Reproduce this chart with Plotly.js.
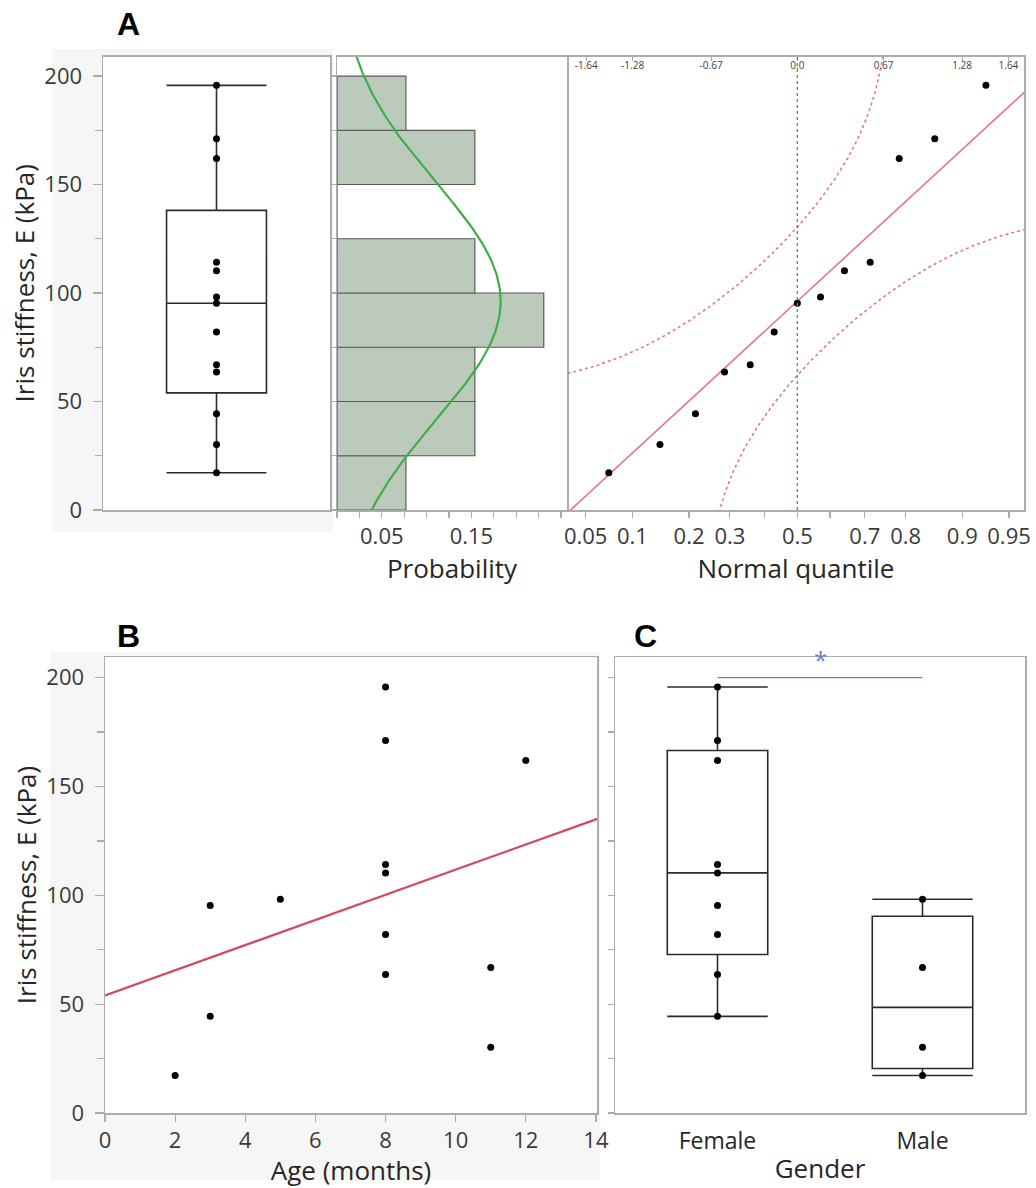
<!DOCTYPE html>
<html>
<head>
<meta charset="utf-8">
<script src="https://cdn.plot.ly/plotly-3.0.1.min.js"></script>
<style>
html,body{margin:0;padding:0;background:#ffffff;}
#chart{width:1036px;height:1188px;}
</style>
</head>
<body>
<div id="chart"></div>
<script>
// ---------------- DATA ----------------
// Iris stiffness E (kPa), one value per subject (sorted)
const stiffness = [17.2, 30.2, 44.4, 63.6, 66.9, 82.0, 95.3, 98.2, 110.3, 114.2, 162.0, 171.1, 195.7];
// Age (months) of the same subjects
const ageMonths = [2, 11, 3, 8, 11, 8, 3, 5, 8, 8, 12, 8, 8];
// Gender of the same subjects
const gender = ['Male', 'Male', 'Female', 'Female', 'Male', 'Female', 'Female', 'Male', 'Female', 'Female', 'Female', 'Female', 'Female'];
const genderCategories = ['Female', 'Male'];
// Histogram bin edges (kPa)
const binEdges = [0, 25, 50, 75, 100, 125, 150, 175, 200];
// Probability axis ticks of the histogram
const probAxisTicks = [0, 0.025, 0.05, 0.075, 0.1, 0.125, 0.15, 0.175, 0.2, 0.225, 0.25];
const probAxisLabels = ['', '', '0.05', '', '', '', '0.15', '', '', '', ''];
// Normal-quantile axis (bottom: probabilities, top: z values)
const quantileProbTicks = [0.05, 0.1, 0.2, 0.3, 0.4, 0.5, 0.6, 0.7, 0.8, 0.9, 0.95];
const quantileProbLabels = ['0.05', '0.1', '0.2', '0.3', '', '0.5', '', '0.7', '0.8', '0.9', '0.95'];
const zTicks = [-1.64, -1.28, -0.67, 0, 0.67, 1.28, 1.64];
const zTickLabels = ['-1.64', '-1.28', '-0.67', '0.0', '0.67', '1.28', '1.64'];
// Lilliefors critical value used for the confidence bands (n = 13)
const lillieforsD = 0.234;

// ---------------- helpers ----------------
function invNorm(p) {
  const a = [-3.969683028665376e+01, 2.209460984245205e+02, -2.759285104469687e+02, 1.383577518672690e+02, -3.066479806614716e+01, 2.506628277459239e+00];
  const b = [-5.447609879822406e+01, 1.615858368580409e+02, -1.556989798598866e+02, 6.680131188771972e+01, -1.328068155288572e+01];
  const c = [-7.784894002430293e-03, -3.223964580411365e-01, -2.400758277161838e+00, -2.549732539343734e+00, 4.374664141464968e+00, 2.938163982698783e+00];
  const d = [7.784695709041462e-03, 3.224671290700398e-01, 2.445134137142996e+00, 3.754408661907416e+00];
  const pl = 0.02425, ph = 1 - pl;
  let q, r;
  if (p < pl) { q = Math.sqrt(-2 * Math.log(p)); return (((((c[0]*q+c[1])*q+c[2])*q+c[3])*q+c[4])*q+c[5]) / ((((d[0]*q+d[1])*q+d[2])*q+d[3])*q+1); }
  if (p > ph) { q = Math.sqrt(-2 * Math.log(1 - p)); return -(((((c[0]*q+c[1])*q+c[2])*q+c[3])*q+c[4])*q+c[5]) / ((((d[0]*q+d[1])*q+d[2])*q+d[3])*q+1); }
  q = p - 0.5; r = q * q;
  return (((((a[0]*r+a[1])*r+a[2])*r+a[3])*r+a[4])*r+a[5])*q / (((((b[0]*r+b[1])*r+b[2])*r+b[3])*r+b[4])*r+1);
}
function normCdf(z) {
  const x = Math.abs(z) / Math.SQRT2;
  const t = 1 / (1 + 0.3275911 * x);
  const y = 1 - (((((1.061405429*t - 1.453152027)*t) + 1.421413741)*t - 0.284496736)*t + 0.254829592)*t*Math.exp(-x*x);
  return z >= 0 ? 0.5 * (1 + y) : 0.5 * (1 - y);
}
// JMP-style quantile: position (n+1)p
function quantile(sorted, p) {
  const n = sorted.length, h = (n + 1) * p;
  if (h <= 1) return sorted[0];
  if (h >= n) return sorted[n - 1];
  const lo = Math.floor(h);
  return sorted[lo - 1] + (h - lo) * (sorted[lo] - sorted[lo - 1]);
}
function boxStats(values) {
  const s = values.slice().sort((u, v) => u - v);
  const q1 = quantile(s, 0.25), med = quantile(s, 0.5), q3 = quantile(s, 0.75);
  const iqr = q3 - q1;
  const lo = s.filter(v => v >= q1 - 1.5 * iqr)[0];
  const hiArr = s.filter(v => v <= q3 + 1.5 * iqr);
  return { q1: q1, med: med, q3: q3, lo: lo, hi: hiArr[hiArr.length - 1] };
}

const n = stiffness.length;
const sortedE = stiffness.slice().sort((u, v) => u - v);
const meanE = stiffness.reduce((s, v) => s + v, 0) / n;
const sdE = Math.sqrt(stiffness.reduce((s, v) => s + (v - meanE) * (v - meanE), 0) / (n - 1));

// ---------------- styles ----------------
const FONT = 'Open Sans, Noto Sans, DejaVu Sans, sans-serif';
const AXIS_GREY = '#acacac';
const TICK_FONT = { family: FONT, size: 22, color: '#3a3a3a' };
const TITLE_FONT = { family: FONT, size: 26, color: '#262626' };
const BOX_LINE = { color: '#2b2b2b', width: 1.6 };
const PINK = '#e2768c';
const GREEN = '#3caf46';

const traces = [];

// ---- A: box plot ----
const stA = boxStats(stiffness);
traces.push({
  type: 'box', xaxis: 'x', yaxis: 'y', orientation: 'v',
  x: [0], q1: [stA.q1], median: [stA.med], q3: [stA.q3], lowerfence: [stA.lo], upperfence: [stA.hi],
  width: 0.44, whiskerwidth: 1, fillcolor: '#ffffff', line: BOX_LINE, boxpoints: false,
  showlegend: false, hoverinfo: 'skip'
});
traces.push({
  type: 'scatter', mode: 'markers', xaxis: 'x', yaxis: 'y',
  x: stiffness.map(() => 0), y: stiffness,
  marker: { color: '#000', size: 7 }, showlegend: false, hoverinfo: 'skip'
});

// ---- A: histogram (horizontal) ----
const binCenters = [], binProb = [];
for (let i = 0; i < binEdges.length - 1; i++) {
  const lo = binEdges[i], hi = binEdges[i + 1];
  binCenters.push((lo + hi) / 2);
  binProb.push(stiffness.filter(v => v >= lo && v < hi).length / n);
}
const binWidth = binEdges[1] - binEdges[0];
traces.push({
  type: 'bar', orientation: 'h', xaxis: 'x2', yaxis: 'y2',
  y: binCenters, x: binProb, width: binWidth,
  marker: { color: '#bccabb', line: { color: '#5a5a5a', width: 1.2 } },
  showlegend: false, hoverinfo: 'skip'
});
// fitted normal density (scaled to bin probability)
const curveY = [], curveX = [];
for (let yv = -5; yv <= 215; yv += 1) {
  const zz = (yv - meanE) / sdE;
  curveY.push(yv);
  curveX.push(binWidth * Math.exp(-0.5 * zz * zz) / (sdE * Math.sqrt(2 * Math.PI)));
}
traces.push({
  type: 'scatter', mode: 'lines', xaxis: 'x2', yaxis: 'y2',
  x: curveX, y: curveY, line: { color: GREEN, width: 2.2 },
  showlegend: false, hoverinfo: 'skip'
});

// ---- A: normal quantile plot ----
const qqX = sortedE.map((v, i) => invNorm((i + 1) / (n + 1)));
const zGrid = [];
for (let z = -2.2; z <= 2.2001; z += 0.01) zGrid.push(z);
traces.push({
  type: 'scatter', mode: 'lines', xaxis: 'x3', yaxis: 'y3',
  x: [zGrid[0], zGrid[zGrid.length - 1]],
  y: [meanE + sdE * zGrid[0], meanE + sdE * zGrid[zGrid.length - 1]],
  line: { color: PINK, width: 1.6 }, showlegend: false, hoverinfo: 'skip'
});
const upX = [], upY = [], loX = [], loY = [];
zGrid.forEach(z => {
  const pu = normCdf(z) + lillieforsD;
  if (pu < 0.9995) { const yv = meanE + sdE * invNorm(pu); if (yv < 260) { upX.push(z); upY.push(yv); } }
  const pl = normCdf(z) - lillieforsD;
  if (pl > 0.0005) { const yv = meanE + sdE * invNorm(pl); if (yv > -50) { loX.push(z); loY.push(yv); } }
});
traces.push({
  type: 'scatter', mode: 'lines', xaxis: 'x3', yaxis: 'y3', x: upX, y: upY,
  line: { color: PINK, width: 1.6, dash: 'dot' }, showlegend: false, hoverinfo: 'skip'
});
traces.push({
  type: 'scatter', mode: 'lines', xaxis: 'x3', yaxis: 'y3', x: loX, y: loY,
  line: { color: PINK, width: 1.6, dash: 'dot' }, showlegend: false, hoverinfo: 'skip'
});
traces.push({
  type: 'scatter', mode: 'markers', xaxis: 'x3', yaxis: 'y3', x: qqX, y: sortedE,
  marker: { color: '#000', size: 7 }, showlegend: false, hoverinfo: 'skip'
});
// carrier for the top z axis
traces.push({
  type: 'scatter', mode: 'markers', xaxis: 'x4', yaxis: 'y3', x: [0], y: [100],
  marker: { opacity: 0 }, showlegend: false, hoverinfo: 'skip'
});

// ---- B: stiffness vs age ----
const meanAge = ageMonths.reduce((s, v) => s + v, 0) / n;
let sxy = 0, sxx = 0;
for (let i = 0; i < n; i++) { sxy += (ageMonths[i] - meanAge) * (stiffness[i] - meanE); sxx += (ageMonths[i] - meanAge) ** 2; }
const slope = sxy / sxx, intercept = meanE - slope * meanAge;
traces.push({
  type: 'scatter', mode: 'lines', xaxis: 'x5', yaxis: 'y5',
  x: [0, 14.2], y: [intercept, intercept + slope * 14.2],
  line: { color: '#d6485e', width: 2.2 }, showlegend: false, hoverinfo: 'skip'
});
traces.push({
  type: 'scatter', mode: 'markers', xaxis: 'x5', yaxis: 'y5',
  x: ageMonths, y: stiffness,
  marker: { color: '#000', size: 7 }, showlegend: false, hoverinfo: 'skip'
});

// ---- C: stiffness by gender ----
genderCategories.forEach((g, gi) => {
  const vals = stiffness.filter((v, i) => gender[i] === g);
  const st = boxStats(vals);
  traces.push({
    type: 'box', xaxis: 'x6', yaxis: 'y6', orientation: 'v',
    x: [gi], q1: [st.q1], median: [st.med], q3: [st.q3], lowerfence: [st.lo], upperfence: [st.hi],
    width: 0.49, whiskerwidth: 1, fillcolor: '#ffffff', line: BOX_LINE, boxpoints: false,
    showlegend: false, hoverinfo: 'skip'
  });
  traces.push({
    type: 'scatter', mode: 'markers', xaxis: 'x6', yaxis: 'y6',
    x: vals.map(() => gi), y: vals,
    marker: { color: '#000', size: 7 }, showlegend: false, hoverinfo: 'skip'
  });
});

// ---------------- layout ----------------
const W = 1036, H = 1188;
const px = v => v / W, py = v => 1 - v / H;
const yDomA = [py(510), py(56.5)];
const B_BOTTOM = 1113, B_TOP = 657;
const yDomB = [py(B_BOTTOM), py(B_TOP)];

const baseAxis = {
  showgrid: false, zeroline: false, showline: true, linecolor: AXIS_GREY, linewidth: 1.5,
  mirror: true, tickcolor: AXIS_GREY, tickfont: TICK_FONT, automargin: false, fixedrange: true
};
const yStiff = Object.assign({}, baseAxis, {
  tickmode: 'linear', tick0: 0, dtick: 50, ticks: 'outside', ticklen: 9, tickwidth: 1.2,
  ticklabelstandoff: 6,
  minor: { dtick: 25, ticks: 'outside', ticklen: 7, tickcolor: AXIS_GREY, tickwidth: 1.2 },
  title: { text: 'Iris stiffness, E (kPa)', font: TITLE_FONT, standoff: 2 }
});
const yTicksOnly = Object.assign({}, baseAxis, {
  tickmode: 'linear', tick0: 0, dtick: 25, ticks: 'outside', ticklen: 6, tickwidth: 1.2, showticklabels: false
});
const letterFont = { family: 'Liberation Sans, Arial, sans-serif', size: 32, color: '#000' };

const layout = {
  width: W, height: H, margin: { l: 0, r: 0, t: 0, b: 0 },
  paper_bgcolor: '#ffffff', plot_bgcolor: '#ffffff',
  showlegend: false, hovermode: false, bargap: 0,
  font: { family: FONT, color: '#262626' },
  // A: box
  xaxis: Object.assign({}, baseAxis, { domain: [px(103), px(330)], range: [-0.5, 0.5], showticklabels: false, ticks: '' }),
  yaxis: Object.assign({}, yStiff, { domain: yDomA, range: [0, 209] }),
  // A: histogram
  xaxis2: Object.assign({}, baseAxis, {
    domain: [px(337), px(567)], range: [0, 0.2567], anchor: 'y2',
    tickmode: 'array', tickvals: probAxisTicks, ticktext: probAxisLabels,
    ticks: 'outside', ticklen: 6, tickwidth: 1.2,
    title: { text: 'Probability', font: TITLE_FONT, standoff: 4 }
  }),
  yaxis2: Object.assign({}, yTicksOnly, { domain: yDomA, range: [0, 209], anchor: 'x2' }),
  // A: normal quantile
  xaxis3: Object.assign({}, baseAxis, {
    domain: [px(568), px(1024)], range: [-1.782, 1.761], anchor: 'y3',
    tickmode: 'array', tickvals: quantileProbTicks.map(invNorm), ticktext: quantileProbLabels,
    ticks: 'outside', ticklen: 6, tickwidth: 1.2,
    title: { text: 'Normal quantile', font: TITLE_FONT, standoff: 4 }
  }),
  xaxis4: Object.assign({}, baseAxis, {
    overlaying: 'x3', side: 'top', anchor: 'y3', range: [-1.782, 1.761], showline: false, mirror: false,
    tickmode: 'array', tickvals: zTicks, ticktext: zTickLabels,
    ticks: 'inside', ticklen: 4, ticklabelposition: 'inside',
    tickfont: { family: FONT, size: 10, color: '#404040' }
  }),
  yaxis3: Object.assign({}, baseAxis, { domain: yDomA, range: [0, 209], anchor: 'x3', showticklabels: false, ticks: '' }),
  // B
  xaxis5: Object.assign({}, baseAxis, {
    domain: [px(105), px(597)], range: [0, 14.03], anchor: 'y5',
    tickmode: 'linear', tick0: 0, dtick: 2, ticks: 'outside', ticklen: 7, tickwidth: 1.2,
    title: { text: 'Age (months)', font: TITLE_FONT, standoff: 6 }
  }),
  yaxis5: Object.assign({}, yStiff, { domain: yDomB, range: [0, 209.5], anchor: 'x5' }),
  // C
  xaxis6: Object.assign({}, baseAxis, {
    domain: [px(615), px(1025)], range: [-0.5, 1.5], anchor: 'y6',
    tickmode: 'array', tickvals: genderCategories.map((g, i) => i), ticktext: genderCategories, ticks: '',
    ticklabelstandoff: 7, tickfont: { family: FONT, size: 23, color: '#262626' },
    title: { text: 'Gender', font: TITLE_FONT, standoff: 4 }
  }),
  yaxis6: Object.assign({}, yTicksOnly, { domain: yDomB, range: [0, 209.5], anchor: 'x6' }),
  shapes: [
    // light grey frame behind panel A box plot and panel B (outside the white plot areas)
    { type: 'rect', xref: 'paper', yref: 'paper', x0: px(52), x1: px(333), y0: py(532), y1: py(49),
      fillcolor: '#f6f6f6', line: { width: 0 }, layer: 'below' },
    { type: 'rect', xref: 'paper', yref: 'paper', x0: px(103), x1: px(330), y0: py(510), y1: py(56.5),
      fillcolor: '#ffffff', line: { width: 0 }, layer: 'below' },
    { type: 'rect', xref: 'paper', yref: 'paper', x0: px(50), x1: px(600), y0: py(1180), y1: py(B_TOP - 5),
      fillcolor: '#f6f6f6', line: { width: 0 }, layer: 'below' },
    { type: 'rect', xref: 'paper', yref: 'paper', x0: px(105), x1: px(597), y0: py(B_BOTTOM), y1: py(B_TOP),
      fillcolor: '#ffffff', line: { width: 0 }, layer: 'below' },
    { type: 'line', xref: 'x3', yref: 'y3 domain', x0: 0, x1: 0, y0: 0, y1: 1,
      line: { color: GREEN, width: 1.4, dash: 'dot' }, layer: 'above' },
    { type: 'line', xref: 'x6', yref: 'y6', x0: 0, x1: 1, y0: 200, y1: 200,
      line: { color: '#5b86cc', width: 1.2 } }
  ],
  annotations: [
    { text: '<b>A</b>', xref: 'paper', yref: 'paper', x: px(128), y: py(24), xanchor: 'center', yanchor: 'middle',
      showarrow: false, font: letterFont },
    { text: '<b>B</b>', xref: 'paper', yref: 'paper', x: px(128), y: py(636), xanchor: 'center', yanchor: 'middle',
      showarrow: false, font: letterFont },
    { text: '<b>C</b>', xref: 'paper', yref: 'paper', x: px(645), y: py(636), xanchor: 'center', yanchor: 'middle',
      showarrow: false, font: letterFont },
    { text: '*', xref: 'x6', yref: 'y6', x: 0.5, y: 200, yanchor: 'bottom', showarrow: false,
      font: { family: FONT, size: 24, color: '#5b86cc' } }
  ]
};

Plotly.newPlot('chart', traces, layout, { staticPlot: true, displayModeBar: false });
</script>
</body>
</html>
